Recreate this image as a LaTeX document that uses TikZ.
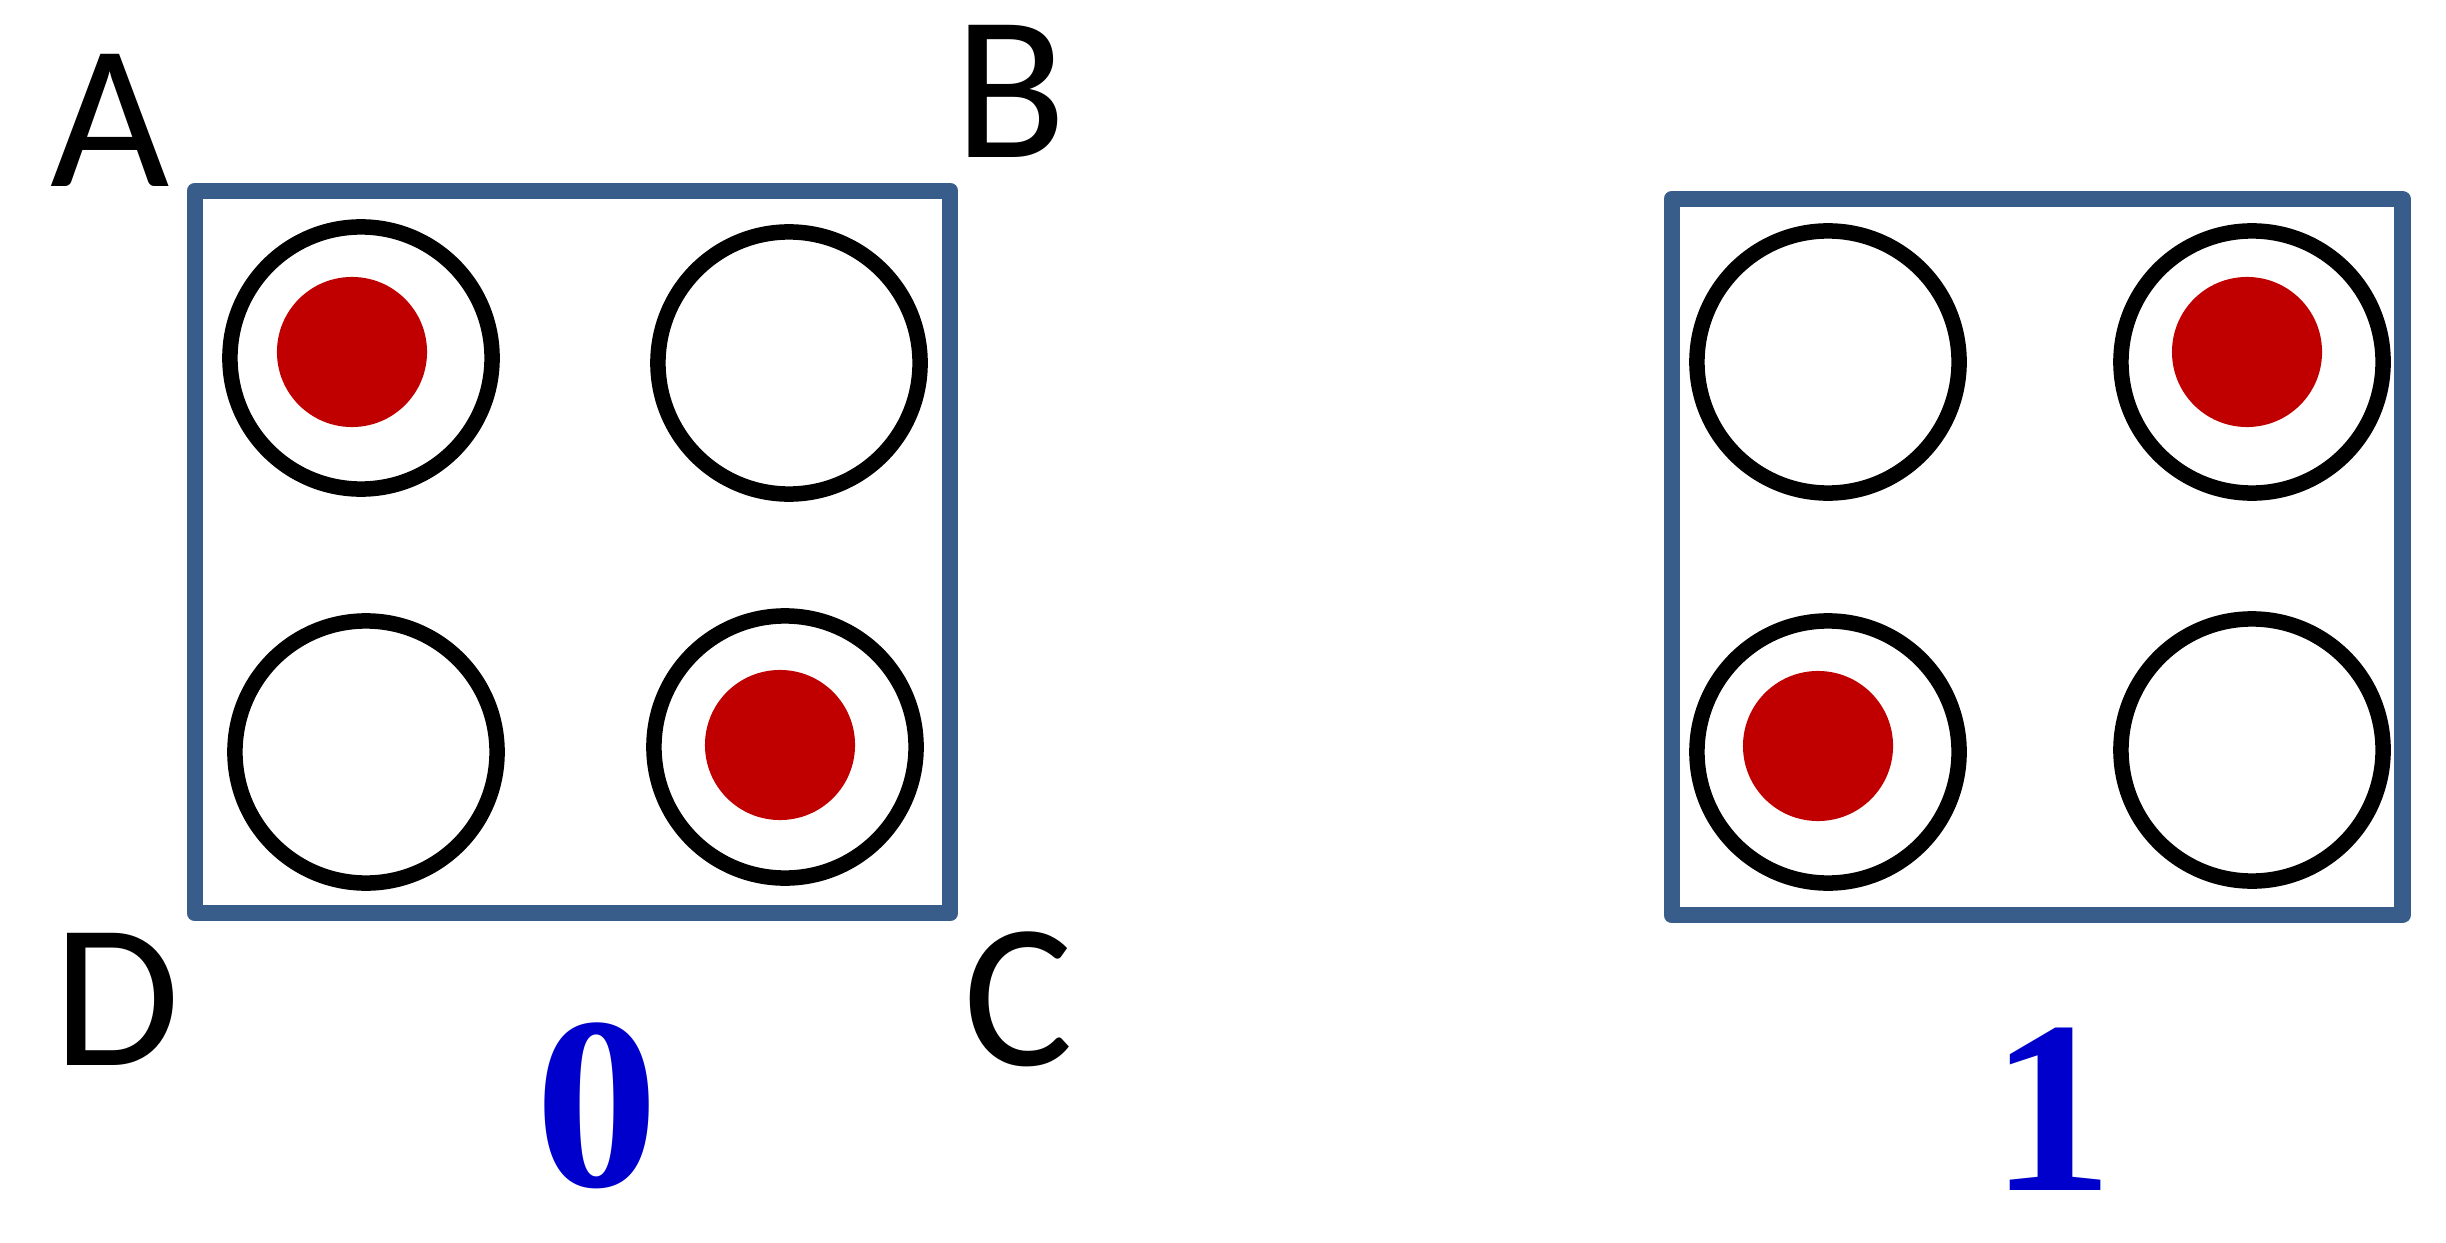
\documentclass[tikz,border=0pt]{standalone}
\usepackage{fontspec}
\setmainfont{Carlito}
\newfontfamily\digitfont{Liberation Serif}
\definecolor{boxblue}{RGB}{56,93,138}
\definecolor{dotred}{RGB}{192,0,0}
\definecolor{digitblue}{RGB}{0,0,204}
\begin{document}
\begin{tikzpicture}[x=0.01cm,y=-0.01cm,
  cell/.style={draw=boxblue,line width=0.165cm,line join=round,inner sep=0pt},
  hole/.style={circle,draw=black,line width=0.155cm,inner sep=0pt,minimum size=2.62cm},
  dot/.style={circle,fill=dotred,inner sep=0pt,minimum size=1.50cm},
  corner/.style={font=\fontsize{58.6}{60}\selectfont,inner sep=0pt,anchor=base},
  digit/.style={font=\digitfont\bfseries\fontsize{70}{72}\selectfont,text=digitblue,inner sep=0pt,anchor=base}]
\useasboundingbox (0,0) rectangle (2446,1243);
% left square
\node[cell,minimum width=7.55cm,minimum height=7.22cm] (sq0) at (572.5,552) {};
\node[hole] (h0a) at (361,358) {};
\node[hole] (h0b) at (789,363) {};
\node[hole] (h0d) at (366,752) {};
\node[hole] (h0c) at (785,747) {};
\node[dot] (d0a) at (352,352) {};
\node[dot] (d0c) at (780,745) {};
% right square
\node[cell,minimum width=7.30cm,minimum height=7.16cm] (sq1) at (2037,557) {};
\node[hole] (h1a) at (1828,362) {};
\node[hole] (h1b) at (2252,362) {};
\node[hole] (h1d) at (1828,752) {};
\node[hole] (h1c) at (2252,750) {};
\node[dot] (d1b) at (2247,352) {};
\node[dot] (d1d) at (1818,746) {};
% labels
\node[corner] (lA) at (110,187) {A};
\node[corner] (lB) at (1011,158) {B};
\node[corner] (lD) at (117,1065) {D};
\node[corner] (lC) at (1018,1065) {C};
\node[digit] (n0) at (597,1186) {0};
\node[digit] (n1) at (2052,1190) {1};
\end{tikzpicture}
\end{document}
